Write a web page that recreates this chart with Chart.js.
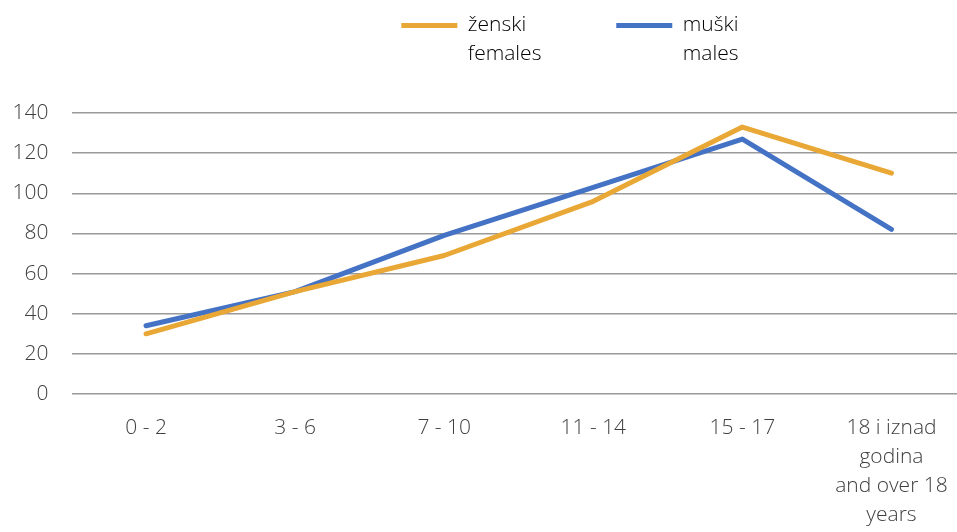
<!DOCTYPE html>
<html>
<head>
<meta charset="utf-8">
<script src="https://cdn.jsdelivr.net/npm/chart.js@4"></script>
<style>
  html, body { margin: 0; padding: 0; background: #fff; overflow: hidden; }
  #wrap { width: 975px; height: 532px; }
</style>
</head>
<body>
<div id="wrap"><canvas id="myChart"></canvas></div>
<script>
// setup
const ageGroups = [
  '0 - 2',
  '3 - 6',
  '7 - 10',
  '11 - 14',
  '15 - 17',
  ['18 i iznad', 'godina', 'and over 18', 'years']
];
const females = [30, 51, 69, 96, 133, 110];
const males = [34, 51, 79, 103, 127, 82];
const femaleLabel = ['ženski', 'females'];
const maleLabel = ['muški', 'males'];
const yTicks = [0, 20, 40, 60, 80, 100, 120, 140];

const orange = '#E9A736';
const blue = '#4472C4';
const textColor = '#404040';
const font = { family: "'Open Sans', 'Noto Sans', sans-serif", size: 21, weight: 300, lineHeight: 1.38 };

const data = {
  labels: ageGroups,
  datasets: [{
    label: femaleLabel,
    data: females,
    borderColor: orange,
    backgroundColor: orange,
    borderWidth: 5,
    pointRadius: 0,
    borderCapStyle: 'round',
    borderJoinStyle: 'round',
    tension: 0
  },
  {
    label: maleLabel,
    data: males,
    borderColor: blue,
    backgroundColor: blue,
    borderWidth: 5,
    pointRadius: 0,
    borderCapStyle: 'round',
    borderJoinStyle: 'round',
    tension: 0
  }]
};

// two-line legend needs more room, and sits a bit right like the original
const legendTweak = {
  id: 'legendTweak',
  beforeLayout(chart) {
    const lg = chart.legend;
    if (lg && !lg._tweaked) {
      const origFit = lg.fit;
      lg.fit = function () {
        origFit.call(this);
        this.height = 110;
      };
      lg._tweaked = true;
    }
  },
  afterLayout(chart) {
    chart.legend.left += 117;
    chart.legend.right += 117;
  }
};

const config = {
  type: 'line',
  data,
  plugins: [legendTweak],
  options: {
    responsive: true,
    maintainAspectRatio: false,
    animation: false,
    layout: { padding: { top: 3, right: 9, bottom: 0, left: 0 } },
    plugins: {
      tooltip: { enabled: false },
      legend: {
        position: 'top',
        labels: {
          color: textColor,
          font: font,
          boxWidth: 56,
          boxHeight: 5,
          padding: 12,
          generateLabels(chart) {
            return chart.data.datasets.map((ds, i) => ({
              text: ds.label,
              fillStyle: ds.borderColor,
              strokeStyle: ds.borderColor,
              lineWidth: 0,
              datasetIndex: i
            }));
          }
        }
      }
    },
    scales: {
      x: {
        offset: true,
        grid: { display: false, drawTicks: false },
        border: { display: false },
        ticks: { color: textColor, font: font, padding: 20, maxRotation: 0, autoSkip: false },
        afterFit(scale) { scale.height = 138; }
      },
      y: {
        min: 0,
        max: 140,
        afterBuildTicks(scale) { scale.ticks = yTicks.map(v => ({ value: v })); },
        grid: { color: '#9a9a9a', lineWidth: 1.5, drawTicks: false },
        border: { display: false },
        ticks: { color: textColor, font: font, padding: 23 },
        afterFit(scale) { scale.width = 71.5; }
      }
    }
  }
};

// render init block
const myChart = new Chart(document.getElementById('myChart'), config);
</script>
</body>
</html>
